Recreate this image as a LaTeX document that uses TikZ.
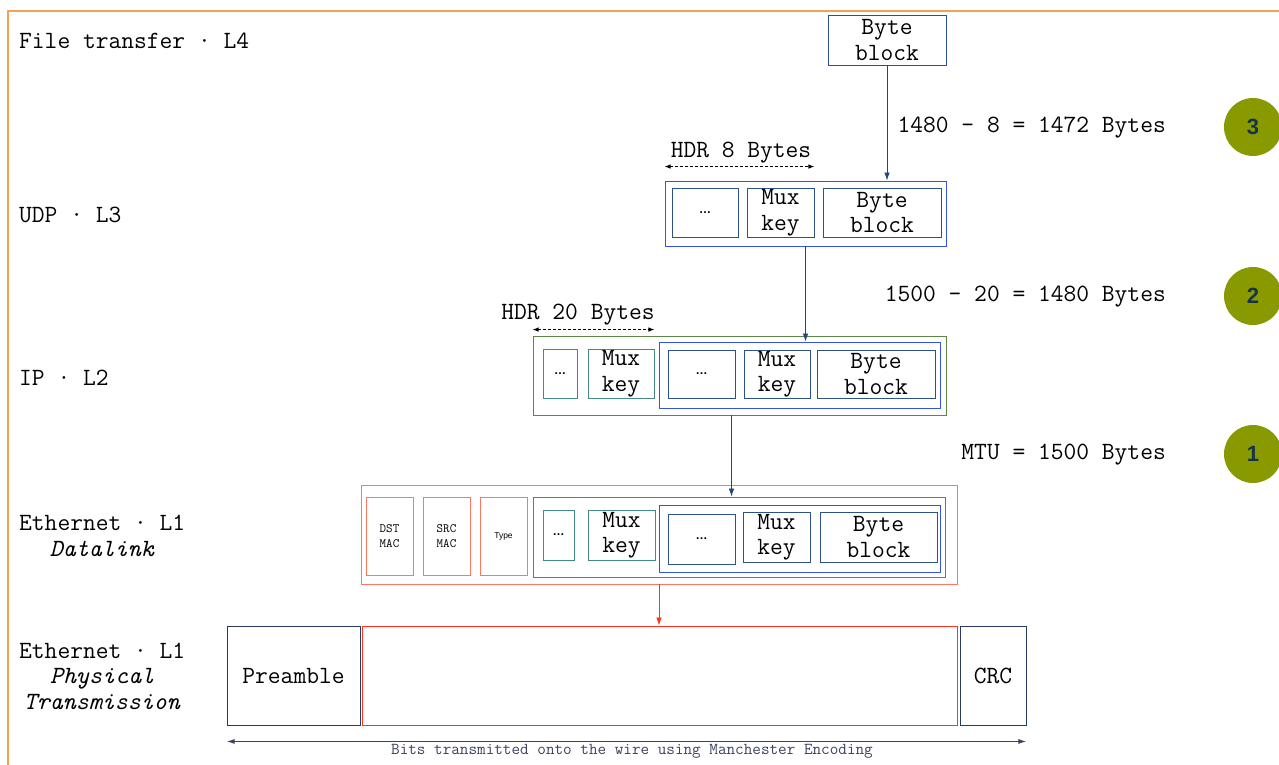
\documentclass[tikz,border=0pt]{standalone}
\usepackage{fontspec}
\setmainfont{Latin Modern Mono}
\newfontfamily\labelsans{Liberation Sans}
\usetikzlibrary{positioning,arrows.meta}

\definecolor{frameorange}{RGB}{246,160,84}
\definecolor{navybox}{RGB}{40,58,96}
\definecolor{steelbox}{RGB}{44,82,140}
\definecolor{brightblue}{RGB}{52,84,228}
\definecolor{ipgreen}{RGB}{96,134,70}
\definecolor{tealbox}{RGB}{70,136,136}
\definecolor{salmon}{RGB}{255,118,98}
\definecolor{wirered}{RGB}{255,52,24}
\definecolor{olive}{RGB}{136,154,0}
\definecolor{stepink}{RGB}{22,52,72}
\definecolor{arrowblue}{RGB}{30,72,132}
\definecolor{wiregray}{RGB}{60,66,96}

\newcommand{\bigtt}{\fontsize{24.8}{25.5}\selectfont}
\newcommand{\etc}{{\labelsans\bfseries\fontsize{12}{12}\selectfont …}}

% a field box given by its corners: name, style, x1, y1, x2, y2, text
\newcommand{\fieldbox}[7]{
  \node[#2, minimum width={#5pt-#3pt}, minimum height={#6pt-#4pt}] (#1)
    at ({(#3+#5)/2},{(#4+#6)/2}) {#7};
}

\tikzset{
  field/.style={draw, line width=0.9pt, inner sep=0pt, align=center, font=\bigtt},
  navyfield/.style={field, draw=navybox},
  steelfield/.style={field, draw=steelbox},
  bluewrap/.style={field, draw=brightblue},
  greenwrap/.style={field, draw=ipgreen},
  tealfield/.style={field, draw=tealbox},
  ethfield/.style={field, draw=salmon, font=\fontsize{12.7}{15}\selectfont},
  wirefield/.style={field, draw=wirered},
  layer/.style={anchor=west, align=center, inner sep=0pt, font=\bigtt},
  sizenote/.style={anchor=east, inner sep=0pt, font=\bigtt},
  stepdot/.style={circle, fill=olive, minimum size=58pt, inner sep=0pt,
    text=stepink, font=\labelsans\bfseries\fontsize{22}{22}\selectfont},
  flow/.style={-{Latex[length=8pt,width=5.5pt]}, line width=0.8pt, draw=arrowblue},
  hdr/.style={{Latex[length=6pt,width=4.5pt]}-{Latex[length=6pt,width=4.5pt]},
    dash pattern=on 3pt off 2pt, line width=0.8pt},
}

\begin{document}
\begin{tikzpicture}[x=1pt,y=-1pt]
\useasboundingbox (0,0) rectangle (1279,765);
\draw[frameorange, line width=2pt] (8,765) -- (8,11) -- (1279,11);

% layer names
\node[layer] (l4) at (19,41) {File transfer · L4};
\node[layer] (l3) at (19,215) {UDP · L3};
\node[layer] (l2) at (19,378) {IP · L2};
\node[layer] (l1a) at (19,536) {Ethernet · L1\\\textit{Datalink}};
\node[layer] (l1b) at (19,676) {Ethernet · L1\\\textit{Physical}\\\textit{Transmission}};

% L4: the payload
\fieldbox{bb4}{steelfield}{828}{15}{946}{65}{Byte\\block}

% L3: udp segment
\fieldbox{udp}{bluewrap}{665}{181}{946}{246}{}
\fieldbox{udpdots}{steelfield}{672}{188}{738}{237}{\etc}
\fieldbox{udpkey}{steelfield}{747}{188}{814}{237}{Mux\\key}
\fieldbox{udpbb}{steelfield}{823}{188}{941}{237}{Byte\\block}

% L2: ip packet
\fieldbox{ip}{greenwrap}{533}{336}{946}{415}{}
\fieldbox{ipdots}{tealfield}{543}{349}{577}{398}{\etc}
\fieldbox{ipkey}{tealfield}{588}{349}{654}{398}{Mux\\key}
\fieldbox{ipin}{bluewrap}{659}{342}{940}{408}{}
\fieldbox{ipindots}{steelfield}{668}{350}{735}{398}{\etc}
\fieldbox{ipinkey}{steelfield}{744}{350}{810}{398}{Mux\\key}
\fieldbox{ipinbb}{steelfield}{817}{350}{935}{398}{Byte\\block}

% L1: ethernet frame
\fieldbox{eth}{field, draw=salmon}{361}{485}{957}{584}{}
\fieldbox{dst}{ethfield}{366}{497}{413}{575}{DST\\MAC}
\fieldbox{src}{ethfield}{423}{497}{470}{575}{SRC\\MAC}
\fieldbox{etype}{ethfield, font=\labelsans\fontsize{8.5}{10}\selectfont}{480}{497}{527}{575}{Type}
\fieldbox{ethip}{greenwrap}{533}{497}{945}{577}{}
\fieldbox{ethdots}{tealfield}{543}{510}{574}{560}{\etc}
\fieldbox{ethkey}{tealfield}{588}{510}{655}{560}{Mux\\key}
\fieldbox{ethin}{bluewrap}{659}{505}{940}{572}{}
\fieldbox{ethindots}{steelfield}{668}{514}{735}{564}{\etc}
\fieldbox{ethinkey}{steelfield}{743}{512}{810}{562}{Mux\\key}
\fieldbox{ethinbb}{steelfield}{820}{512}{937}{562}{Byte\\block}

% L1: on the wire
\fieldbox{pre}{navyfield}{227}{626}{360}{725}{Preamble}
\fieldbox{wire}{wirefield}{362}{626}{957}{725}{}
\fieldbox{crc}{navyfield}{960}{626}{1026}{725}{CRC}

% encapsulation arrows
\draw[flow] (bb4.south) -- (bb4.south |- udp.north);
\draw[flow] (udp.south) -- (udp.south |- ipin.north);
\draw[flow] ([xshift=-8pt]ip.south) -- ([xshift=-8pt]ip.south |- ethip.north);
\draw[flow, draw=wirered] (eth.south) -- (eth.south |- wire.north);

% header lengths
\draw[hdr] ([yshift=14pt]udp.north west) -- ([yshift=14pt]udp.north west -| udpkey.east);
\node[font=\bigtt, inner sep=0pt] (hdr8) at (741,153) {HDR 8 Bytes};
\draw[hdr] ([yshift=6pt]ip.north west) -- ([yshift=6pt]ip.north west -| ipkey.east);
\node[font=\bigtt, inner sep=0pt] (hdr20) at (578,315) {HDR 20 Bytes};

% sizes at each step
\node[sizenote] (s3) at (1166,128) {1480 – 8 = 1472 Bytes};
\node[sizenote] (s2) at (1166,297) {1500 – 20 = 1480 Bytes};
\node[sizenote] (s1) at (1166,455) {MTU = 1500 Bytes};
\foreach \n/\y in {3/127,2/296,1/454}
  \node[stepdot] (dot\n) at (1253,\y) {\n};

% the whole frame on the wire
\draw[{Latex[length=8pt,width=5pt]}-{Latex[length=8pt,width=5pt]}, line width=1.2pt, draw=wiregray]
  ([yshift=-16pt]pre.south west) -- ([yshift=-16pt]crc.south east);
\node[text=wiregray, inner sep=0pt, font=\fontsize{16.7}{17}\selectfont] (bits) at (632,751)
  {Bits transmitted onto the wire using Manchester Encoding};
\end{tikzpicture}
\end{document}
